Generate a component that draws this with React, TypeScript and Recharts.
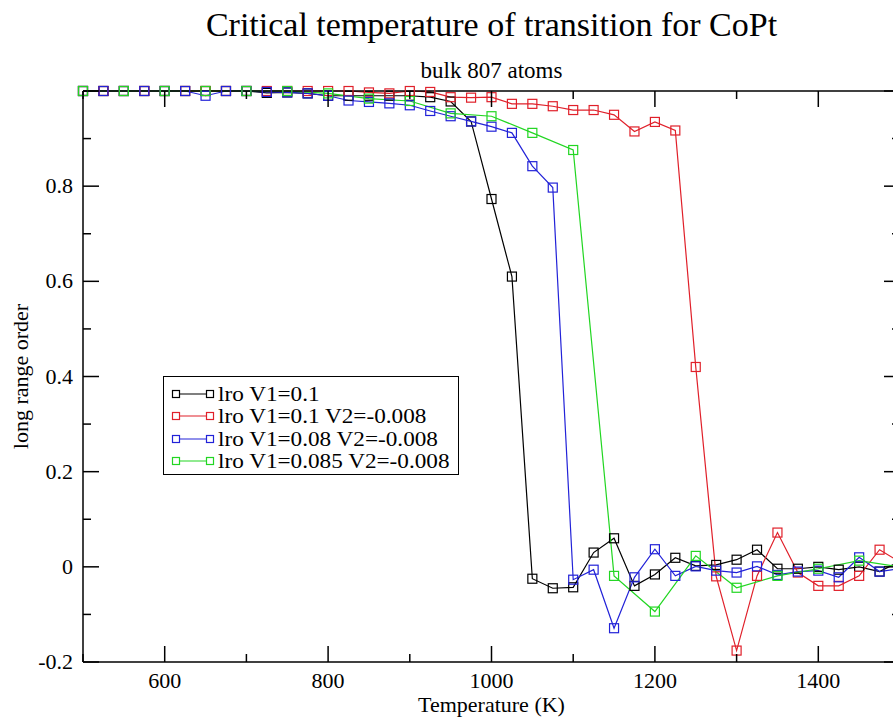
import { Legend, Line, LineChart, XAxis, YAxis } from 'recharts'

// temperature grid (K)
const temps = [
  500, 525, 550, 575, 600, 625, 650, 675, 700, 725, 750, 775, 800, 825, 850, 875, 900, 925, 950, 975,
  1000, 1025, 1050, 1075, 1100, 1125, 1150, 1175, 1200, 1225, 1250, 1275, 1300, 1325, 1350, 1375, 1400,
  1425, 1450, 1475, 1500,
]

// long range order per run
const lroV1 = [
  1, 1, 1, 1, 1, 1, 1, 1, 1,
  0.996, 0.997, 0.995, 0.99, 0.99, 0.99, 0.99, 0.99, 0.987, 0.978, 0.936,
  0.773, 0.61, -0.025, -0.045, -0.043, 0.03, 0.06, -0.04, -0.016, 0.019,
  0.002, 0.004, 0.015, 0.036, -0.004, -0.004, 0, -0.006, 0, -0.01, 0.012,
]
const lroV1V2 = [
  1, 1, 1, 1, 1, 1, 1, 1, 1, 1, 1, 1, 1, 1,
  0.997, 0.995, 1, 0.998, 0.987, 0.986,
  0.987, 0.973, 0.973, 0.968, 0.96, 0.96, 0.95, 0.915, 0.935, 0.917,
  0.42, -0.02, -0.176, -0.019, 0.072, -0.012, -0.04, -0.04, -0.019, 0.036, 0.01,
]
const lroV108V2 = [
  1, 1, 1, 1, 1, 1, 0.99, 1, 1,
  0.998, 0.997, 0.995, 0.99, 0.98, 0.977, 0.974, 0.97, 0.958, 0.947, 0.936,
  0.925, 0.912, 0.842, 0.797, -0.027, -0.006, -0.129, -0.022, 0.037, -0.019,
  0.001, -0.008, -0.012, 0.001, -0.017, -0.01, -0.008, -0.022, 0.02, -0.01, -0.004,
]
// this run was sampled every 50 K
const lroV1085V2 = [
  1, null, 1, null, 1, null, 1, null, 1, null, 1, null, 0.995, null, 0.984, null, 0.979, null, 0.953, null,
  0.947, null, 0.912, null, 0.876, null, -0.019, null, -0.094, null, 0.023, null, -0.044, null, -0.019, null,
  -0.004, null, 0.013, null, 0,
]

const xTicks = [500, 600, 700, 800, 900, 1000, 1100, 1200, 1300, 1400, 1500]
const yTicks = [-0.2, -0.1, 0, 0.1, 0.2, 0.3, 0.4, 0.5, 0.6, 0.7, 0.8, 0.9, 1]

const SERIES = [
  { key: 'v1', name: 'lro V1=0.1', color: '#000000' },
  { key: 'v1v2', name: 'lro V1=0.1 V2=-0.008', color: '#e0202a' },
  { key: 'v08', name: 'lro V1=0.08 V2=-0.008', color: '#2222d8' },
  { key: 'v085', name: 'lro V1=0.085 V2=-0.008', color: '#22d622' },
]

const rows = temps.map((T, i) => ({
  T,
  v1: lroV1[i],
  v1v2: lroV1V2[i],
  v08: lroV108V2[i],
  v085: lroV1085V2[i],
}))

const FONT = "'Liberation Serif', 'DejaVu Serif', Tinos, 'Times New Roman', Times, serif"
const txt = (size: number) => ({ fontFamily: FONT, fontSize: size })
const MAJOR = 16
const MINOR = 8

const isMajorX = (v: number) => v % 200 === 0
const isMajorY = (v: number) => Math.round(v * 10) % 2 === 0

function BottomTick({ x, y, payload }: any) {
  const v = payload.value
  const major = isMajorX(v)
  return (
    <g>
      <line x1={x} y1={y} x2={x} y2={y - (major ? MAJOR : MINOR)} stroke="#000" strokeWidth={1.5} />
      {major && v > 500 && v < 1500 && (
        <text x={x} y={y + 26} textAnchor="middle" style={txt(22)} fill="#000">
          {v}
        </text>
      )}
    </g>
  )
}

function TopTick({ x, y, payload }: any) {
  const len = isMajorX(payload.value) ? MAJOR : MINOR
  return <line x1={x} y1={y} x2={x} y2={y + len} stroke="#000" strokeWidth={1.5} />
}

function LeftTick({ x, y, payload }: any) {
  const v = payload.value
  const major = isMajorY(v)
  return (
    <g>
      <line x1={x} y1={y} x2={x + (major ? MAJOR : MINOR)} y2={y} stroke="#000" strokeWidth={1.5} />
      {major && v < 0.95 && (
        <text x={x - 10} y={y + 7} textAnchor="end" style={txt(22)} fill="#000">
          {v === 0 ? '0' : v.toFixed(1)}
        </text>
      )}
    </g>
  )
}

function RightTick({ x, y, payload }: any) {
  const len = isMajorY(payload.value) ? MAJOR : MINOR
  return <line x1={x} y1={y} x2={x - len} y2={y} stroke="#000" strokeWidth={1.5} />
}

const squareDot = (color: string) => (p: any) => {
  const { cx, cy, index } = p
  if (cx == null || cy == null || p.value == null) return <g key={`d${index}`} />
  return (
    <rect key={`d${index}`} x={cx - 4.5} y={cy - 4.5} width={9} height={9} fill="none" stroke={color} strokeWidth={1.2} />
  )
}

function Titles({ viewBox }: any) {
  const cx = viewBox.x + viewBox.width / 2
  return (
    <g fill="#000">
      <text x={cx} y={36} textAnchor="middle" style={txt(34)}>
        Critical temperature of transition for CoPt
      </text>
      <text x={cx} y={78} textAnchor="middle" style={txt(23)}>
        bulk 807 atoms
      </text>
    </g>
  )
}

function XTitle({ viewBox }: any) {
  return (
    <text x={viewBox.x + viewBox.width / 2} y={712} textAnchor="middle" style={txt(22)} fill="#000">
      Temperature (K)
    </text>
  )
}

function YTitle({ viewBox }: any) {
  return (
    <text
      transform={`translate(28, ${viewBox.y + viewBox.height / 2}) rotate(-90)`}
      textAnchor="middle"
      style={txt(22)}
      fill="#000"
    >
      long range order
    </text>
  )
}

// legend rows are tight, so the labels are drawn a bit narrow-tall and stretched sideways
function LegendBox() {
  return (
    <div
      style={{
        width: 296,
        height: 99,
        boxSizing: 'border-box',
        border: '1.5px solid #000',
        background: '#fff',
        paddingTop: 6,
        color: '#000',
        ...txt(20),
      }}
    >
      {SERIES.map((s) => (
        <div key={s.key} style={{ display: 'flex', alignItems: 'center', height: 22.3 }}>
          <svg width={54} height={22} style={{ flex: 'none' }}>
            <line x1={12} x2={46} y1={11} y2={11} stroke={s.color} strokeWidth={1.2} />
            <rect x={8.5} y={7.5} width={7} height={7} fill="#fff" stroke={s.color} strokeWidth={1.2} />
            <rect x={42.5} y={7.5} width={7} height={7} fill="#fff" stroke={s.color} strokeWidth={1.2} />
          </svg>
          <span
            style={{
              lineHeight: '20px',
              whiteSpace: 'nowrap',
              display: 'inline-block',
              transform: 'scaleX(1.16)',
              transformOrigin: 'left center',
            }}
          >
            {s.name}
          </span>
        </div>
      ))}
    </div>
  )
}

export default function App() {
  const axisLine = { stroke: '#000', strokeWidth: 1.5 }
  return (
    <div
      style={{
        position: 'fixed',
        left: 0,
        top: 0,
        width: 893,
        height: 718,
        overflow: 'hidden',
        background: '#fff',
        fontFamily: FONT,
      }}
    >
      <LineChart width={920} height={718} data={rows} margin={{ top: 0, right: 0, bottom: 0, left: 0 }}>
        <XAxis
          dataKey="T"
          type="number"
          domain={[500, 1500]}
          ticks={xTicks}
          interval={0}
          height={56}
          tickSize={0}
          tickMargin={0}
          tickLine={false}
          axisLine={axisLine}
          tick={<BottomTick />}
          label={{ content: <XTitle /> }}
        />
        <XAxis
          xAxisId="top"
          orientation="top"
          dataKey="T"
          type="number"
          domain={[500, 1500]}
          ticks={xTicks}
          interval={0}
          height={91}
          tickSize={0}
          tickMargin={0}
          tickLine={false}
          axisLine={axisLine}
          tick={<TopTick />}
          label={{ content: <Titles /> }}
        />
        <YAxis
          type="number"
          domain={[-0.2, 1]}
          ticks={yTicks}
          interval={0}
          width={83}
          tickSize={0}
          tickMargin={0}
          tickLine={false}
          axisLine={axisLine}
          tick={<LeftTick />}
          label={{ content: <YTitle /> }}
        />
        <YAxis
          yAxisId="right"
          orientation="right"
          type="number"
          domain={[-0.2, 1]}
          ticks={yTicks}
          interval={0}
          width={20}
          tickSize={0}
          tickMargin={0}
          tickLine={false}
          axisLine={axisLine}
          tick={<RightTick />}
        />
        <Legend
          layout="horizontal"
          verticalAlign="middle"
          align="center"
          wrapperStyle={{ left: 163, top: 376, width: 296, height: 99 }}
          content={<LegendBox />}
        />
        {SERIES.map((s, i) => (
          <Line
            key={s.key}
            type="linear"
            dataKey={s.key}
            name={s.name}
            xAxisId={i === 3 ? 'top' : 0}
            yAxisId={i === 3 ? 'right' : 0}
            stroke={s.color}
            strokeWidth={1.2}
            dot={squareDot(s.color)}
            activeDot={false}
            connectNulls
            isAnimationActive={false}
          />
        ))}
      </LineChart>
    </div>
  )
}
